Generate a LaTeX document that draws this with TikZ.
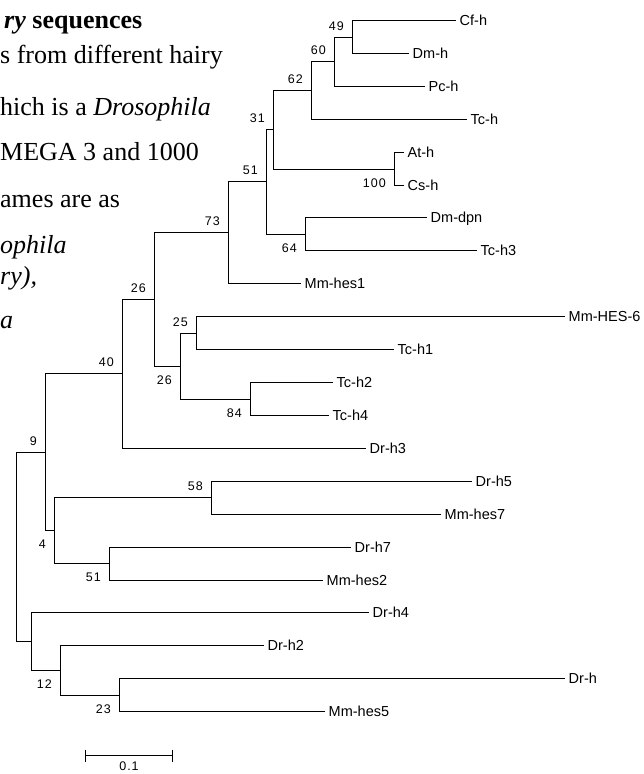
\documentclass[tikz,border=0pt]{standalone}
\usepackage{fontspec}
\setmainfont{Liberation Serif}
\newfontfamily\treefont{Liberation Sans}
\newfontfamily\bootfont[LetterSpace=8]{Liberation Sans}
\begin{document}
\begin{tikzpicture}[x=1pt,y=-1pt,
  branch/.style={line width=1.35pt},
  leaf/.style={anchor=west,inner xsep=4pt,inner ysep=0pt,text height=10.5pt,text depth=0pt,font=\treefont\fontsize{14.5}{16}\selectfont},
  bootup/.style={anchor=south east,inner sep=0pt,xshift=-8.5pt,yshift=6.3pt,font=\bootfont\fontsize{12.5}{14}\selectfont},
  bootdown/.style={anchor=north east,inner sep=0pt,xshift=-8.5pt,yshift=-8.7pt,font=\bootfont\fontsize{12.5}{14}\selectfont},
  scalelabel/.style={anchor=north,inner sep=0pt,font=\bootfont\fontsize{12.5}{14}\selectfont},
  prose/.style={anchor=base west,inner sep=0pt,font=\fontsize{26}{30}\selectfont}]
 \useasboundingbox (0,0) rectangle (644,774);
 % text of the page beside the tree
 \node[prose] (p1) at (4,28) {\textbf{\textit{ry} sequences}};
 \node[prose] (p2) at (0,63) {s from different hairy};
 \node[prose] (p3) at (0,115) {hich is a \textit{Drosophila}};
 \node[prose] (p4) at (0,160) {MEGA 3 and 1000};
 \node[prose] (p5) at (0,207) {ames are as};
 \node[prose] (p6) at (0,253) {\textit{ophila}};
 \node[prose] (p7) at (0,284) {\textit{ry),}};
 \node[prose] (p8) at (0,328) {\textit{a}};
 % leaves
 \node[leaf] (cfh) at (455.5,20.5) {Cf-h};
 \node[leaf] (dmh) at (408.5,53.5) {Dm-h};
 \node[leaf] (pch) at (424.5,86.5) {Pc-h};
 \node[leaf] (tch) at (466.5,119.5) {Tc-h};
 \node[leaf] (ath) at (403.5,152.5) {At-h};
 \node[leaf] (csh) at (403.5,185.5) {Cs-h};
 \node[leaf] (dmdpn) at (426.5,217.5) {Dm-dpn};
 \node[leaf] (tch3) at (476.5,250.5) {Tc-h3};
 \node[leaf] (mmhes1) at (300.5,283.5) {Mm-hes1};
 \node[leaf] (mmhes6) at (564.5,316.5) {Mm-HES-6};
 \node[leaf] (tch1) at (393.5,349.5) {Tc-h1};
 \node[leaf] (tch2) at (332.5,382.5) {Tc-h2};
 \node[leaf] (tch4) at (328.5,415.5) {Tc-h4};
 \node[leaf] (drh3) at (365.5,448.5) {Dr-h3};
 \node[leaf] (drh5) at (471.5,481.5) {Dr-h5};
 \node[leaf] (mmhes7) at (440.5,514.5) {Mm-hes7};
 \node[leaf] (drh7) at (350.5,547.5) {Dr-h7};
 \node[leaf] (mmhes2) at (322.5,580.5) {Mm-hes2};
 \node[leaf] (drh4) at (368.5,612.5) {Dr-h4};
 \node[leaf] (drh2) at (263.5,645.5) {Dr-h2};
 \node[leaf] (drh) at (564.5,678.5) {Dr-h};
 \node[leaf] (mmhes5) at (324.5,711.5) {Mm-hes5};
 % inner nodes
 \coordinate (n49) at (352.5,37.5); \coordinate (n60) at (334.5,61.5); \coordinate (n62) at (311.5,90.5);
 \coordinate (n100) at (394.5,169.5); \coordinate (n31) at (273.5,129.5); \coordinate (n64) at (305.5,234.5);
 \coordinate (n51) at (266.5,181.5); \coordinate (n73) at (228.5,232.5); \coordinate (n25) at (196.5,333.5);
 \coordinate (n84) at (250.5,399.5); \coordinate (n26b) at (180.5,366.5); \coordinate (n26a) at (154.5,299.5);
 \coordinate (n40) at (122.5,373.5); \coordinate (n58) at (211.5,497.5); \coordinate (n51b) at (109.5,563.5);
 \coordinate (n4) at (54.5,530.5); \coordinate (n9) at (45.5,452.5); \coordinate (n23) at (119.5,695.5);
 \coordinate (n12) at (60.5,670.5); \coordinate (nx) at (31.5,641.5); \coordinate (root) at (16.5,546.5);
 % branches
 \draw[branch] (cfh.west) -| (n49) |- (dmh.west);
 \draw[branch] (n49) -| (n60) |- (pch.west);
 \draw[branch] (n60) -| (n62) |- (tch.west);
 \draw[branch] (ath.west) -| (n100) |- (csh.west);
 \draw[branch] (n62) -| (n31) |- (n100);
 \draw[branch] (dmdpn.west) -| (n64) |- (tch3.west);
 \draw[branch] (n31) -| (n51) |- (n64);
 \draw[branch] (n51) -| (n73) |- (mmhes1.west);
 \draw[branch] (mmhes6.west) -| (n25) |- (tch1.west);
 \draw[branch] (tch2.west) -| (n84) |- (tch4.west);
 \draw[branch] (n25) -| (n26b) |- (n84);
 \draw[branch] (n73) -| (n26a) |- (n26b);
 \draw[branch] (n26a) -| (n40) |- (drh3.west);
 \draw[branch] (drh5.west) -| (n58) |- (mmhes7.west);
 \draw[branch] (drh7.west) -| (n51b) |- (mmhes2.west);
 \draw[branch] (n58) -| (n4) |- (n51b);
 \draw[branch] (n40) -| (n9) |- (n4);
 \draw[branch] (drh.west) -| (n23) |- (mmhes5.west);
 \draw[branch] (drh2.west) -| (n12) |- (n23);
 \draw[branch] (drh4.west) -| (nx) |- (n12);
 \draw[branch] (n9) -| (root) |- (nx);
 % bootstrap values
 \node[bootup] (b49) at (n49) {49}; \node[bootup] (b60) at (n60) {60}; \node[bootup] (b62) at (n62) {62};
 \node[bootup] (b31) at (n31) {31}; \node[bootup] (b51) at (n51) {51}; \node[bootup] (b73) at (n73) {73};
 \node[bootup] (b26a) at (n26a) {26}; \node[bootup] (b40) at (n40) {40}; \node[bootup] (b9) at (n9) {9};
 \node[bootup] (b25) at (n25) {25}; \node[bootup] (b58) at (n58) {58};
 \node[bootdown] (b100) at (n100) {100}; \node[bootdown] (b64) at (n64) {64}; \node[bootdown] (b26b) at (n26b) {26};
 \node[bootdown] (b84) at (n84) {84}; \node[bootdown] (b4) at (n4) {4}; \node[bootdown] (b51b) at (n51b) {51};
 \node[bootdown] (b12) at (n12) {12}; \node[bootdown] (b23) at (n23) {23};
 % scale bar
 \coordinate (sbl) at (85.5,755.5); \coordinate (sbr) at (172.5,755.5);
 \draw[branch] (sbl) -- (sbr);
 \draw[branch] ([yshift=6pt]sbl) -- ([yshift=-6pt]sbl); \draw[branch] ([yshift=6pt]sbr) -- ([yshift=-6pt]sbr);
 \node[scalelabel] (sblabel) at (129,761.5) {0.1};
\end{tikzpicture}
\end{document}
